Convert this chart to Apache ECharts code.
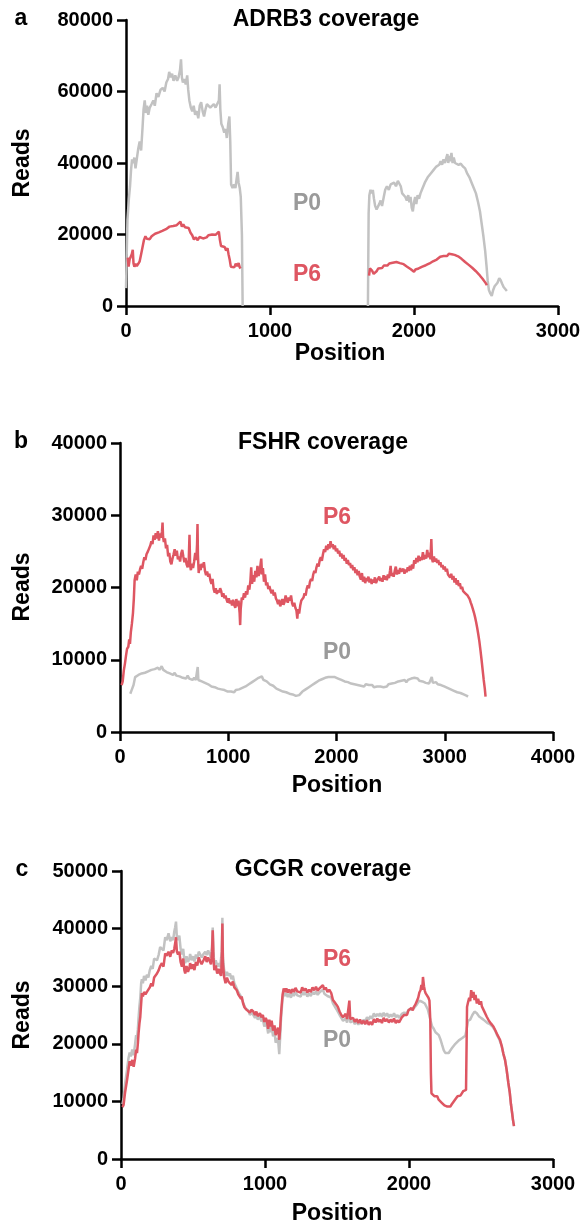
<!DOCTYPE html>
<html>
<head>
    <meta charset="utf-8">
    <title>Coverage</title>
    <script src="https://cdn.jsdelivr.net/npm/echarts@6/dist/echarts.min.js"></script>
    <style>
        html, body { margin: 0; padding: 0; background: #fff; }
    </style>
</head>
<body>
    <div id="main" style="width: 584px;height:1228px;"></div>
    <script type="text/javascript">

    // axis ticks
    var adrb3Ticks = [0, 20000, 40000, 60000, 80000];
    var fshrTicks = [0, 10000, 20000, 30000, 40000];
    var gcgrTicks = [0, 10000, 20000, 30000, 40000, 50000];

    // ADRB3 coverage, [position, reads]; null breaks the line
    var adrb3P0 = [[0,5000],[10,24000],[20,30000],[28,33500],[35,38000],[42,41000],[50,40000],[58,41500],[66,38500],[75,39000],[85,44000],[95,46000],[105,43500],[115,50000],[122,55000],[130,57500],[138,54000],[146,56000],[155,53500],[165,55500],[178,56500],[190,57500],[200,56000],[212,59500],[225,58500],[240,60500],[255,61000],[268,60000],[280,62500],[292,63500],[300,65500],[310,64000],[320,65000],[330,63000],[342,64500],[355,63000],[365,64000],[375,66000],[382,69000],[388,64000],[395,62500],[405,63500],[415,62000],[425,64500],[432,60500],[440,57500],[450,55500],[460,54500],[470,56000],[480,53500],[492,54500],[502,52500],[512,56000],[522,57000],[532,54500],[542,53000],[552,55000],[562,56500],[575,57000],[585,55500],[598,56000],[610,56500],[622,55500],[635,56000],[645,57500],[650,62000],[655,55000],[662,51000],[672,50000],[682,48500],[692,49500],[700,47000],[710,51000],[718,53000],[724,46000],[730,34000],[740,33000],[750,34000],[760,33000],[768,35500],[775,37500],[782,34500],[790,33000],[797,30500],[805,20000],[810,0],
        [1200,null],
        [1680,0],[1685,26000],[1690,31000],[1698,32500],[1706,31500],[1714,32500],[1722,30000],[1730,28000],[1740,27000],[1748,26500],[1758,28500],[1768,29500],[1778,28000],[1790,30500],[1800,32500],[1812,33500],[1825,32500],[1838,34000],[1850,33500],[1862,34500],[1875,33500],[1888,35000],[1898,35500],[1908,33500],[1918,31500],[1928,32000],[1940,30500],[1950,29500],[1960,31000],[1968,29000],[1976,30500],[1984,27500],[1992,26500],[2000,29000],[2008,30500],[2016,28500],[2025,31000],[2035,30000],[2045,31500],[2055,32500],[2065,33000],[2075,34500],[2085,34000],[2095,36000],[2105,35500],[2115,37000],[2125,36500],[2135,38000],[2145,37500],[2155,39000],[2165,38500],[2175,39500],[2185,40500],[2195,39500],[2205,41000],[2215,40000],[2225,41500],[2232,42500],[2238,40000],[2245,42000],[2252,40500],[2260,42800],[2268,40000],[2276,41500],[2285,40000],[2295,40500],[2310,39500],[2325,39800],[2340,39000],[2355,38500],[2370,37000],[2385,36000],[2400,34500],[2415,33000],[2430,31500],[2445,29000],[2458,26500],[2470,23000],[2482,19500],[2494,15500],[2504,11000],[2512,7000],[2520,4500],[2530,3500],[2540,2800],[2550,4500],[2560,5500],[2570,6000],[2580,6500],[2592,7800],[2602,7200],[2612,6200],[2622,5300],[2634,4800],[2645,4200]];

    var adrb3P6 = [[12,13500],[18,11000],[25,13000],[33,12500],[40,14500],[47,15700],[52,12000],[58,11000],[66,11800],[75,11200],[85,11800],[95,12500],[105,14500],[115,16500],[125,18500],[135,19500],[145,18800],[155,19200],[165,18700],[178,19500],[190,19800],[202,20200],[215,20000],[228,20600],[240,20300],[252,21000],[265,20800],[278,21500],[290,21200],[302,22200],[315,21800],[328,22400],[340,22000],[352,22600],[365,22300],[378,23600],[388,22200],[398,22800],[410,22000],[422,21500],[435,21800],[448,20500],[460,19800],[472,18600],[485,19200],[498,18400],[510,19300],[522,19700],[535,18900],[548,18500],[560,19200],[572,19800],[585,19400],[598,20000],[610,19600],[622,19900],[635,19500],[645,20800],[652,18500],[660,16800],[672,16300],[685,16500],[695,15500],[705,16200],[712,14500],[720,13000],[728,11000],[740,11200],[752,10800],[762,11800],[772,11200],[782,12000],[790,10800],[796,10500],
        [1200,null],
        [1688,8500],[1694,10500],[1700,10200],[1710,9800],[1720,9000],[1732,8800],[1742,9800],[1752,10500],[1765,11000],[1778,10600],[1790,11300],[1802,11600],[1815,11300],[1828,11900],[1840,11700],[1852,12100],[1865,11800],[1878,12300],[1890,12500],[1902,12000],[1915,11500],[1928,11700],[1940,11200],[1952,11000],[1965,10800],[1978,10300],[1990,9900],[2000,9600],[2010,10200],[2020,9800],[2032,10500],[2045,10600],[2058,11000],[2070,10900],[2082,11400],[2095,11700],[2108,11900],[2120,12300],[2132,12500],[2145,12800],[2158,13000],[2170,13300],[2182,13800],[2194,13600],[2206,14000],[2218,14200],[2230,14000],[2242,14600],[2252,14100],[2262,14500],[2272,14000],[2282,14300],[2294,13800],[2306,13900],[2318,13500],[2330,13200],[2342,12800],[2355,12300],[2368,12000],[2380,11500],[2392,11000],[2404,10700],[2416,10200],[2428,9800],[2440,9400],[2452,8800],[2464,8200],[2476,7600],[2488,7100],[2498,6400],[2506,5800]];

    // FSHR coverage
    var fshrP0 = [[95,5300],[110,5900],[125,6500],[140,7600],[155,7500],[170,7900],[185,7800],[200,8100],[215,7900],[230,8200],[245,8100],[260,8400],[275,8300],[290,8600],[305,8500],[320,8700],[335,8500],[350,8900],[365,8600],[385,9100],[400,8600],[415,8800],[430,8300],[445,8500],[460,8100],[475,8300],[490,7900],[505,8200],[520,7800],[535,8000],[550,7700],[565,7900],[580,7500],[595,7700],[610,7400],[625,7800],[640,7400],[655,7600],[670,7200],[685,7500],[700,7200],[712,7400],[718,9000],[724,7200],[740,7300],[755,7000],[770,7100],[785,6800],[800,6900],[815,6600],[830,6700],[845,6300],[860,6500],[875,6200],[890,6300],[905,6000],[920,6100],[935,5900],[950,6000],[965,5800],[980,5900],[995,5600],[1010,5800],[1025,5600],[1040,5700],[1055,5500],[1070,5800],[1085,5700],[1100,5900],[1115,6000],[1130,6100],[1145,6000],[1160,6300],[1175,6500],[1190,6600],[1205,6700],[1220,6900],[1235,7100],[1250,7200],[1265,7100],[1280,7500],[1295,7300],[1310,7700],[1325,7200],[1340,7300],[1355,7000],[1370,6800],[1385,6600],[1400,6500],[1415,6400],[1430,6200],[1445,6000],[1460,6000],[1475,5800],[1490,5800],[1505,5600],[1520,5700],[1535,5500],[1550,5500],[1565,5300],[1580,5400],[1595,5200],[1610,5200],[1625,5000],[1640,5000],[1655,5100],[1670,5300],[1685,5600],[1700,5800],[1715,5900],[1730,6100],[1745,6200],[1760,6400],[1775,6500],[1790,6700],[1805,6800],[1820,7000],[1835,7100],[1850,7200],[1865,7300],[1880,7400],[1895,7500],[1910,7500],[1925,7600],[1940,7700],[1955,7600],[1970,7800],[1985,7600],[2000,7500],[2015,7400],[2030,7400],[2045,7200],[2060,7200],[2075,7000],[2090,7000],[2105,6900],[2120,6900],[2135,6700],[2150,6800],[2165,6600],[2180,6700],[2195,6500],[2210,6600],[2225,6400],[2240,6500],[2255,6300],[2270,6600],[2285,6400],[2300,6500],[2315,6300],[2330,6500],[2345,6200],[2360,6400],[2375,6300],[2390,6500],[2405,6300],[2420,6400],[2435,6200],[2450,6400],[2465,6300],[2480,6600],[2495,6400],[2510,6700],[2525,6600],[2540,6800],[2555,6700],[2570,7000],[2585,6900],[2600,7100],[2615,7000],[2630,7200],[2645,6900],[2660,7200],[2675,7100],[2690,7400],[2705,7200],[2720,7500],[2735,7300],[2750,7400],[2765,7100],[2780,7200],[2795,7000],[2810,7000],[2825,6800],[2840,6900],[2855,6700],[2870,6800],[2880,7600],[2890,6800],[2905,6700],[2920,6900],[2935,6600],[2950,6700],[2965,6500],[2980,6500],[2995,6300],[3010,6300],[3025,6100],[3040,6100],[3055,5900],[3070,5900],[3085,5700],[3100,5700],[3115,5500],[3130,5500],[3145,5400],[3160,5300],[3175,5200],[3190,5100],[3205,5000],[3215,4900]];

    var fshrP6 = [[15,6500],[25,7000],[35,8500],[46,9500],[55,10500],[65,11500],[77,11800],[85,12800],[92,12200],[100,13800],[110,15000],[120,16500],[128,18500],[135,21000],[145,21800],[155,21000],[165,22200],[175,21800],[185,22500],[195,23000],[205,22600],[215,23500],[225,24200],[235,23800],[245,24600],[258,25000],[270,24800],[280,25800],[290,26400],[300,26000],[310,27200],[320,26600],[330,27500],[340,26800],[350,27800],[360,26500],[370,27500],[380,26900],[388,27800],[393,29000],[398,27000],[405,26300],[415,26800],[425,25400],[435,25900],[445,24300],[455,24800],[465,23600],[475,23200],[485,24000],[495,24600],[505,25300],[515,24400],[525,25100],[535,23900],[545,24300],[555,23600],[565,24700],[575,25200],[585,24300],[595,23500],[605,24100],[615,23200],[625,22800],[635,23800],[642,27300],[648,23000],[655,22400],[665,23300],[675,22700],[685,23600],[695,24800],[705,23800],[712,26000],[716,28800],[720,24500],[727,22000],[735,23200],[745,22400],[755,23300],[765,22800],[775,23500],[785,22300],[795,21700],[805,22200],[815,21500],[825,21900],[835,21000],[845,20500],[855,21200],[865,19800],[875,19300],[885,19900],[895,19100],[905,19600],[915,19300],[925,19900],[935,19500],[945,18700],[955,19200],[965,18500],[975,18900],[985,18300],[995,17900],[1005,18500],[1015,17800],[1025,18200],[1035,17500],[1045,18300],[1055,17600],[1065,17200],[1075,18400],[1085,17400],[1095,18200],[1105,16500],[1110,14800],[1115,17000],[1125,18600],[1135,18300],[1145,19200],[1155,18600],[1165,19500],[1175,19000],[1185,20300],[1195,19700],[1205,21000],[1212,22800],[1220,20500],[1230,21700],[1240,20800],[1250,22300],[1260,21400],[1270,23000],[1280,21600],[1290,22100],[1300,23400],[1305,24000],[1312,21800],[1320,22700],[1330,20800],[1340,21800],[1350,20300],[1360,20700],[1370,19800],[1380,20200],[1390,19600],[1400,19200],[1410,19700],[1420,18900],[1430,19300],[1440,18500],[1450,18200],[1460,17700],[1470,18300],[1480,17400],[1490,17800],[1500,18400],[1510,17600],[1520,18000],[1530,18900],[1540,18300],[1550,17900],[1560,18600],[1570,18200],[1580,18900],[1590,17800],[1600,17400],[1610,17900],[1620,17200],[1630,16800],[1638,15700],[1645,17000],[1655,16400],[1665,17500],[1675,18200],[1685,18000],[1695,18600],[1705,19200],[1715,18900],[1725,19800],[1735,20300],[1745,19900],[1755,20800],[1765,21200],[1775,20900],[1785,21800],[1795,22300],[1805,22000],[1815,22800],[1825,23300],[1835,22900],[1845,23800],[1855,24200],[1865,23700],[1875,24600],[1885,25300],[1895,24900],[1905,25800],[1915,25200],[1925,26000],[1935,25400],[1945,26400],[1955,25600],[1965,26000],[1975,25300],[1985,25800],[1995,25000],[2005,25400],[2015,24700],[2025,25100],[2035,24300],[2045,24700],[2055,24000],[2065,24500],[2075,23700],[2085,24100],[2095,23300],[2105,23800],[2115,23100],[2125,23400],[2135,22700],[2145,23100],[2155,22400],[2165,22800],[2175,22000],[2185,22500],[2195,21700],[2205,22300],[2215,21500],[2225,21100],[2235,22000],[2245,20800],[2255,21500],[2265,20600],[2275,21300],[2285,20900],[2295,21500],[2305,20700],[2315,21200],[2325,20500],[2335,21100],[2345,20700],[2355,21400],[2365,20600],[2375,21000],[2385,20800],[2395,21500],[2405,20900],[2415,21300],[2425,20800],[2435,21700],[2445,21100],[2455,21600],[2465,21000],[2475,21800],[2485,21300],[2495,22400],[2500,23000],[2508,21600],[2518,22000],[2528,21500],[2538,22300],[2548,22900],[2558,21800],[2568,22400],[2578,21900],[2588,22700],[2598,22200],[2608,22000],[2618,22600],[2628,21900],[2638,22500],[2648,22100],[2658,22800],[2668,22300],[2678,23000],[2688,22400],[2698,23200],[2708,22600],[2718,23800],[2728,23300],[2738,24100],[2748,23500],[2758,24400],[2768,23700],[2778,24200],[2788,23800],[2798,24900],[2808,23900],[2818,24500],[2828,24000],[2838,25200],[2848,24200],[2858,24800],[2868,23900],[2876,26700],[2882,24000],[2890,23500],[2900,24300],[2910,23600],[2920,24000],[2930,23400],[2940,23800],[2950,23100],[2960,23500],[2970,22800],[2980,23100],[2990,22500],[3000,22900],[3010,22200],[3020,22600],[3030,21800],[3040,22000],[3050,21400],[3060,21900],[3070,21100],[3080,21600],[3090,20700],[3100,21300],[3110,20400],[3120,21000],[3130,20200],[3140,20600],[3150,19800],[3160,20100],[3170,19500],[3180,19700],[3190,19200],[3200,19400],[3210,18900],[3220,18700],[3230,18400],[3240,17900],[3250,17500],[3260,17000],[3270,16500],[3280,15900],[3290,15200],[3300,14400],[3310,13500],[3320,12500],[3330,11300],[3340,10000],[3350,8600],[3360,7200],[3370,6000],[3377,4900]];

    // GCGR coverage
    var gcgrP0 = [[10,9500],[18,10500],[28,13000],[42,15500],[52,17500],[60,18500],[68,17800],[78,19000],[88,18000],[98,20000],[105,21500],[111,20800],[117,22500],[122,24500],[128,26500],[134,28000],[140,30500],[145,31200],[152,30500],[160,31800],[170,31000],[180,32000],[190,31500],[200,32800],[210,33500],[220,33000],[230,34800],[240,35000],[250,34500],[262,35500],[272,36800],[284,37000],[295,36200],[307,38500],[318,38000],[330,39200],[342,37800],[352,38500],[362,38000],[370,39500],[376,40200],[382,41200],[388,38500],[396,38000],[405,38800],[414,36500],[423,35500],[432,36500],[440,34500],[446,34000],[455,35200],[465,34200],[475,34800],[480,35600],[490,34500],[500,35200],[510,34300],[520,35500],[530,34800],[540,36000],[550,35500],[560,35000],[573,35600],[585,36000],[595,35400],[605,36200],[615,35600],[625,35000],[632,36800],[637,40200],[642,36000],[648,33800],[658,34500],[668,33400],[678,34000],[688,33300],[695,33000],[700,36000],[704,41900],[708,35000],[716,32800],[726,31800],[736,32500],[746,31800],[757,32200],[767,31200],[777,31800],[787,30500],[797,30000],[804,29800],[814,29000],[824,29200],[834,28200],[838,28400],[848,27200],[858,26500],[868,26000],[873,25800],[885,25800],[895,25000],[905,25400],[919,25000],[930,24500],[940,25000],[950,24200],[965,24700],[975,23900],[985,24300],[995,23000],[1005,23800],[1012,23300],[1022,21800],[1030,23400],[1038,22000],[1046,23000],[1056,21300],[1066,22200],[1074,20200],[1081,20500],[1090,21000],[1099,18200],[1105,21000],[1110,23800],[1115,25600],[1122,27800],[1130,28800],[1139,28300],[1148,28800],[1158,28100],[1168,28700],[1180,28000],[1190,28800],[1200,28300],[1212,29000],[1224,28400],[1236,28700],[1248,28200],[1258,29000],[1270,28500],[1282,28900],[1294,28200],[1306,28700],[1318,28300],[1330,29000],[1342,28600],[1354,29100],[1366,28500],[1378,28900],[1390,29200],[1402,29400],[1412,28700],[1422,29000],[1434,28300],[1446,28600],[1460,28000],[1472,27000],[1484,26500],[1496,26000],[1506,25700],[1518,25000],[1530,24500],[1542,24000],[1552,23800],[1560,24400],[1570,23700],[1580,24000],[1586,26000],[1592,23700],[1600,23600],[1612,24000],[1624,23400],[1636,23900],[1648,23300],[1660,23900],[1672,23400],[1684,24200],[1696,23800],[1708,24600],[1720,24200],[1732,24800],[1744,24400],[1756,25300],[1768,24700],[1780,25200],[1790,24800],[1800,25300],[1812,24700],[1824,25400],[1836,24800],[1848,25300],[1860,24600],[1872,25100],[1884,24700],[1896,25300],[1908,24600],[1920,25000],[1931,24500],[1940,24800],[1950,25200],[1960,24900],[1966,25400],[1976,25600],[1986,25300],[1996,25900],[2006,25600],[2016,26000],[2026,25700],[2034,26200],[2044,26500],[2054,26800],[2064,27000],[2072,27500],[2080,27800],[2090,27300],[2100,27600],[2110,27000],[2120,26800],[2130,26000],[2140,25000],[2150,24000],[2161,23000],[2172,22600],[2184,22000],[2196,21800],[2207,21500],[2218,20800],[2230,19800],[2241,18900],[2252,18400],[2262,18200],[2276,18400],[2288,18900],[2300,19300],[2310,19600],[2322,20000],[2334,20300],[2346,20600],[2356,20700],[2370,21000],[2382,21200],[2391,21400],[2400,22500],[2410,24000],[2425,24200],[2440,25000],[2455,25600],[2471,25300],[2485,24800],[2500,24500],[2517,24200],[2530,23900],[2545,23600],[2563,23400],[2580,23000],[2596,22400],[2610,21600],[2628,20700],[2645,19500],[2655,18300],[2667,17200],[2678,15500],[2690,13200],[2700,11500],[2708,9500],[2715,8200],[2722,6800],[2729,5700]];

    var gcgrP6 = [[10,9000],[18,9400],[28,11500],[42,13700],[52,15500],[60,17000],[68,16200],[78,17200],[88,16000],[98,17500],[105,19000],[111,18400],[117,20000],[122,21800],[128,23500],[134,24700],[140,27000],[145,28800],[152,28200],[160,29000],[170,28600],[180,29000],[190,28800],[200,29800],[210,30500],[220,30000],[230,31500],[240,31800],[250,32200],[262,32800],[272,33500],[284,34000],[295,33400],[307,35700],[318,35300],[330,36000],[342,35100],[352,36200],[362,35800],[370,36500],[376,37400],[382,38500],[388,36000],[396,35500],[405,36000],[414,34200],[423,33400],[432,34800],[440,32800],[446,32200],[455,33500],[465,32500],[475,33200],[480,34000],[490,33000],[500,33800],[510,32800],[520,34200],[530,33600],[540,35000],[550,34300],[560,33800],[573,34500],[585,35200],[595,34200],[605,35000],[615,34400],[625,33800],[632,36000],[637,39700],[642,35000],[648,32800],[658,33600],[668,32200],[678,33000],[688,32200],[695,31800],[700,35000],[704,40900],[708,34000],[716,31600],[726,30500],[736,31500],[746,30800],[757,31000],[767,30200],[777,30800],[787,29800],[797,29500],[804,29300],[814,28600],[824,28900],[834,27800],[838,28200],[848,27000],[858,26300],[868,26000],[873,25900],[885,26200],[895,25400],[905,25900],[919,25600],[930,25000],[940,25600],[950,24800],[965,25300],[975,24600],[985,25000],[995,23800],[1005,24500],[1012,24100],[1022,22600],[1030,24200],[1038,23000],[1046,24000],[1056,22300],[1066,23200],[1074,21500],[1081,21800],[1090,22800],[1099,20700],[1105,22500],[1110,24800],[1115,26400],[1122,28500],[1130,29600],[1139,29000],[1148,29600],[1158,28900],[1168,29400],[1180,28800],[1190,29500],[1200,29000],[1212,29700],[1224,29100],[1236,29400],[1248,28900],[1258,29800],[1270,29200],[1282,29600],[1294,28900],[1306,29400],[1318,29000],[1330,29800],[1342,29300],[1354,29900],[1366,29200],[1378,29600],[1390,29900],[1402,30200],[1412,29400],[1422,29800],[1434,29000],[1446,29400],[1460,28800],[1472,27600],[1484,27200],[1496,26800],[1506,26400],[1518,25600],[1530,25000],[1542,24600],[1552,24400],[1560,25200],[1570,24300],[1580,24600],[1586,27500],[1592,24300],[1600,24100],[1612,24500],[1624,23800],[1636,24300],[1648,23600],[1660,24200],[1672,23500],[1684,24000],[1696,23400],[1708,24100],[1720,23300],[1732,23800],[1744,23300],[1756,24300],[1768,23700],[1780,24400],[1790,23800],[1800,24200],[1812,23600],[1824,24500],[1836,23900],[1848,24300],[1860,23700],[1872,24200],[1884,23800],[1896,24400],[1908,23600],[1920,24100],[1931,23700],[1940,24000],[1950,24600],[1960,24300],[1966,25000],[1976,25300],[1986,25000],[1996,25800],[2006,25500],[2016,26200],[2026,25800],[2034,26400],[2044,26800],[2054,27400],[2064,28000],[2072,28900],[2080,29300],[2086,30200],[2092,29400],[2097,31600],[2104,30000],[2110,29200],[2115,28800],[2125,28500],[2135,28000],[2142,27500],[2148,24000],[2152,15000],[2156,11400],[2166,11100],[2176,10900],[2186,10600],[2196,10900],[2206,10300],[2216,10000],[2226,9800],[2236,9500],[2246,9300],[2256,9600],[2266,9100],[2276,9300],[2287,9100],[2297,9500],[2307,9800],[2317,10200],[2327,10500],[2337,10900],[2347,11200],[2357,11000],[2367,11400],[2377,11800],[2387,11600],[2396,12000],[2400,20000],[2403,26400],[2410,27200],[2418,28000],[2425,27400],[2432,29300],[2440,28000],[2448,29000],[2455,27600],[2462,28500],[2471,27000],[2480,27800],[2490,26800],[2500,27400],[2506,26500],[2515,26200],[2525,25500],[2540,24700],[2555,24000],[2570,23500],[2586,23000],[2600,22300],[2615,21500],[2632,20700],[2645,19500],[2655,18300],[2667,17200],[2678,15500],[2690,13200],[2700,11500],[2708,9500],[2715,8200],[2722,6800],[2729,5700]];

    var grey = '#c2c2c2', red = '#de5662', labelGrey = '#9a9a9a';
    var font = 'Arial, "Liberation Sans", Helvetica, sans-serif';

    var myChart = echarts.init(document.getElementById('main'));

    function plain(v) { return String(v); }

    function xAx(i, max) {
        return {
            gridIndex: i, type: 'value', min: 0, max: max, interval: 1000,
            axisLine: {lineStyle: {color: '#000', width: 2.5}},
            axisTick: {length: 9, lineStyle: {color: '#000', width: 2.5}},
            splitLine: {show: false},
            axisLabel: {color: '#000', fontSize: 20, fontWeight: 'bold', fontFamily: font, margin: 15, formatter: plain}
        };
    }
    function yAx(i, ticks) {
        return {
            gridIndex: i, type: 'value', min: 0, max: ticks[ticks.length - 1], interval: ticks[1] - ticks[0],
            axisLine: {show: true, lineStyle: {color: '#000', width: 2.5}},
            axisTick: {show: true, length: 9, lineStyle: {color: '#000', width: 2.5}},
            splitLine: {show: false},
            axisLabel: {color: '#000', fontSize: 20, fontWeight: 'bold', fontFamily: font, margin: 13, formatter: plain}
        };
    }
    function line(i, data, color) {
        return {
            type: 'line', xAxisIndex: i, yAxisIndex: i, data: data,
            showSymbol: false, connectNulls: false, animation: false,
            lineStyle: {color: color, width: 2.5}
        };
    }
    function txt(x, y, s, size, color, rot) {
        return {
            type: 'text', x: x, y: y, rotation: rot || 0,
            style: {text: s, fill: color || '#000', fontSize: size, fontWeight: 'bold', fontFamily: font,
                align: 'center', verticalAlign: 'middle'}
        };
    }

    option = {
        animation: false,
        grid: [
            {left: 126, top: 20, width: 432, height: 286},
            {left: 120, top: 443, width: 433, height: 289},
            {left: 121, top: 871, width: 432, height: 288}
        ],
        xAxis: [xAx(0, 3000), xAx(1, 4000), xAx(2, 3000)],
        yAxis: [yAx(0, adrb3Ticks), yAx(1, fshrTicks), yAx(2, gcgrTicks)],
        series: [
            line(0, adrb3P0, grey), line(0, adrb3P6, red),
            line(1, fshrP0, grey), line(1, fshrP6, red),
            line(2, gcgrP0, grey), line(2, gcgrP6, red)
        ],
        graphic: [
            txt(21, 19, 'a', 23), txt(21, 442, 'b', 23), txt(22, 870, 'c', 23),
            txt(326, 20, 'ADRB3 coverage', 23), txt(323, 443, 'FSHR coverage', 23), txt(323, 870, 'GCGR coverage', 23),
            txt(23, 163, 'Reads', 23, '#000', Math.PI / 2), txt(23, 587, 'Reads', 23, '#000', Math.PI / 2), txt(23, 1015, 'Reads', 23, '#000', Math.PI / 2),
            txt(340, 354, 'Position', 23), txt(337, 786, 'Position', 23), txt(337, 1214, 'Position', 23),
            txt(307, 204, 'P0', 23, labelGrey), txt(307, 275, 'P6', 23, red),
            txt(337, 518, 'P6', 23, red), txt(337, 653, 'P0', 23, labelGrey),
            txt(337, 960, 'P6', 23, red), txt(337, 1041, 'P0', 23, labelGrey)
        ]
    };

    myChart.setOption(option);
    </script>
</body>
</html>
